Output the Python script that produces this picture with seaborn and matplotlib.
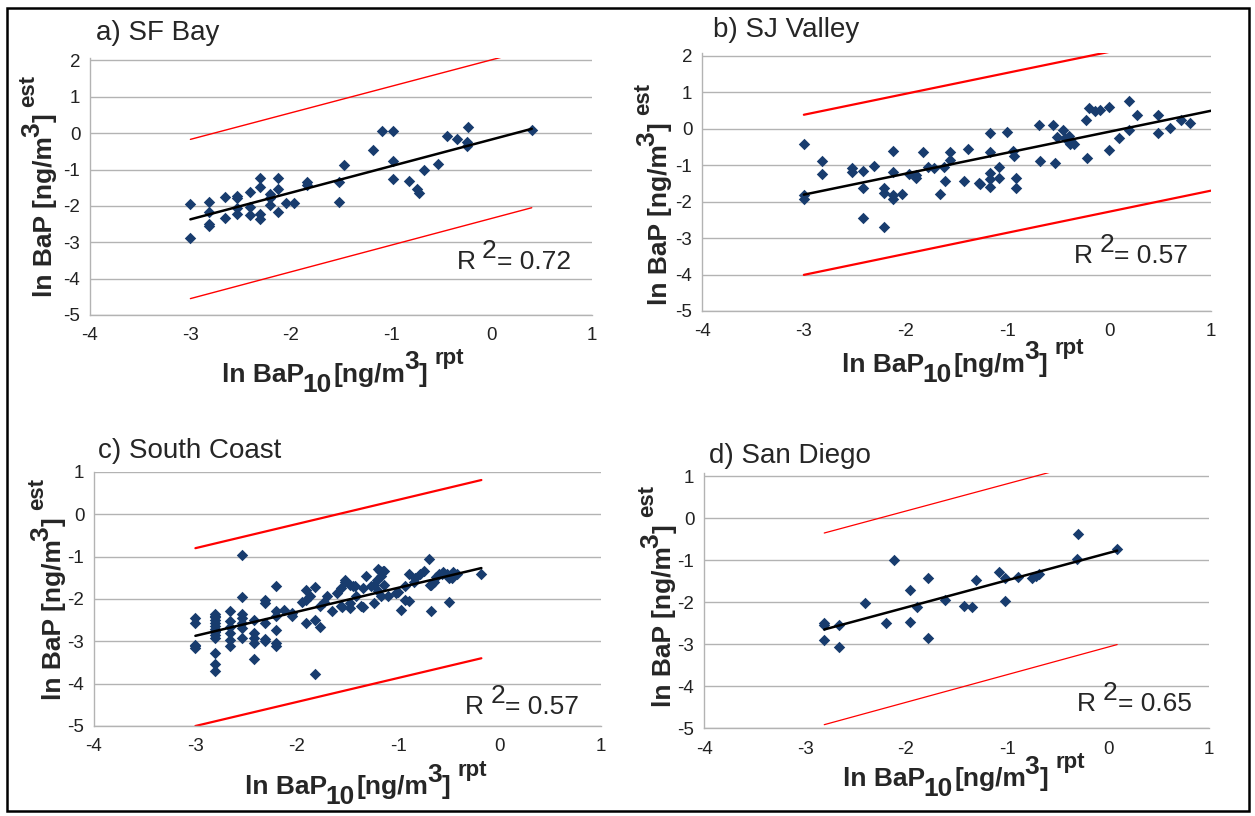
# scatter of estimated vs reported ln BaP, four air basins
import pandas as pd
import matplotlib
matplotlib.use("Agg")
import matplotlib.pyplot as plt
import seaborn as sns
from matplotlib.patches import Rectangle

# ---- data ----
# a) SF Bay
sf_x = [-3.0, -3.0, -2.81, -2.81, -2.81, -2.81, -2.66, -2.66, -2.54, -2.54, -2.54, -2.54,
        -2.41, -2.41, -2.41, -2.31, -2.31, -2.31, -2.31, -2.21, -2.21, -2.21, -2.13, -2.13,
        -2.13, -2.05, -1.97, -1.84, -1.84, -1.52, -1.52, -1.47, -1.18, -1.09, -0.98, -0.98,
        -0.98, -0.82, -0.74, -0.72, -0.67, -0.53, -0.44, -0.34, -0.23, -0.24, -0.24, 0.40]
sf_y = [-1.95, -2.88, -1.90, -2.17, -2.50, -2.56, -1.75, -2.33, -1.73, -1.79, -2.07, -2.21,
        -1.61, -2.02, -2.26, -1.24, -1.49, -2.23, -2.37, -1.67, -1.77, -1.98, -1.24, -1.53,
        -2.17, -1.92, -1.92, -1.34, -1.42, -1.34, -1.90, -0.87, -0.46, 0.05, 0.05, -0.76,
        -1.25, -1.32, -1.54, -1.64, -1.00, -0.85, -0.07, -0.17, 0.17, -0.23, -0.35, 0.08]
sf_fit_x = [-3.0, 0.4]
sf_fit_y = [-2.37, 0.12]
sf_upper = [-0.17, 2.31]
sf_lower = [-4.55, -2.05]

# b) SJ Valley
sj_x = [-3.0, -3.0, -3.0, -2.82, -2.82, -2.53, -2.53, -2.42, -2.42, -2.42, -2.31, -2.21,
        -2.21, -2.21, -2.12, -2.12, -2.12, -2.12, -2.04, -1.97, -1.90, -1.90, -1.83, -1.78,
        -1.72, -1.66, -1.62, -1.61, -1.56, -1.56, -1.43, -1.39, -1.28, -1.27, -1.17, -1.17,
        -1.17, -1.17, -1.17, -1.08, -1.08, -1.00, -0.95, -0.94, -0.92, -0.92, -0.69, -0.68,
        -0.55, -0.53, -0.51, -0.45, -0.43, -0.40, -0.39, -0.39, -0.35, -0.23, -0.22, -0.20,
        -0.14, -0.09, 0.00, 0.00, 0.10, 0.19, 0.19, 0.27, 0.48, 0.48, 0.60, 0.70, 0.79]
sj_y = [-0.42, -1.81, -1.94, -0.89, -1.24, -1.07, -1.18, -1.17, -1.62, -2.45, -1.03, -1.64,
        -1.76, -2.71, -0.61, -1.20, -1.81, -1.94, -1.79, -1.24, -1.26, -1.35, -0.63, -1.05,
        -1.08, -1.78, -1.06, -1.43, -0.63, -0.87, -1.43, -0.56, -1.48, -1.51, -0.13, -0.63,
        -1.21, -1.39, -1.60, -1.06, -1.36, -0.09, -0.61, -0.75, -1.36, -1.62, 0.09, -0.89,
        0.09, -0.93, -0.23, -0.05, -0.25, -0.19, -0.34, -0.41, -0.41, 0.25, -0.80, 0.57,
        0.49, 0.52, 0.60, -0.58, -0.27, 0.76, -0.03, 0.38, 0.38, -0.13, 0.03, 0.25, 0.15]
sj_fit_x = [-3.0, 1.0]
sj_fit_y = [-1.81, 0.49]
sj_upper = [0.38, 2.68]
sj_lower = [-4.01, -1.70]

# c) South Coast
sc_x = [-3.0, -3.0, -3.0, -3.0, -3.0,
        -2.81, -2.81, -2.81, -2.81, -2.81, -2.81, -2.81, -2.81, -2.81, -2.81, -2.81, -2.81,
        -2.81, -2.81,
        -2.66, -2.66, -2.66, -2.66, -2.66, -2.66,
        -2.54, -2.54, -2.54, -2.54, -2.54, -2.54, -2.54,
        -2.42, -2.42, -2.42, -2.42, -2.42,
        -2.31, -2.31, -2.31, -2.31, -2.31,
        -2.21, -2.21, -2.21, -2.21, -2.21, -2.21,
        -2.13, -2.05, -2.05, -1.95, -1.91, -1.91, -1.91, -1.87, -1.82, -1.82, -1.82,
        -1.77, -1.77, -1.73, -1.70, -1.65, -1.60, -1.56, -1.56, -1.55, -1.52, -1.52,
        -1.48, -1.48, -1.48, -1.45, -1.43, -1.42, -1.37, -1.35, -1.35, -1.32, -1.27,
        -1.24, -1.24, -1.21, -1.20, -1.20, -1.18, -1.17, -1.17, -1.15, -1.14, -1.14,
        -1.10, -1.02, -1.00, -0.97, -0.93, -0.93, -0.89, -0.89, -0.84, -0.83, -0.79,
        -0.75, -0.70, -0.69, -0.68, -0.68, -0.65, -0.63, -0.60, -0.57, -0.56, -0.52,
        -0.50, -0.50, -0.47, -0.46, -0.42, -0.18]
sc_y = [-2.45, -2.57, -3.08, -3.12, -3.16,
        -2.35, -2.40, -2.43, -2.50, -2.57, -2.63, -2.70, -2.75, -2.78, -2.85, -2.92, -3.28,
        -3.53, -3.69,
        -2.29, -2.51, -2.65, -2.81, -2.96, -3.11,
        -0.96, -1.96, -2.35, -2.45, -2.57, -2.69, -2.92,
        -2.49, -2.81, -2.92, -3.04, -3.42,
        -2.02, -2.09, -2.57, -2.95, -3.00,
        -1.70, -2.29, -2.41, -2.73, -3.03, -3.10,
        -2.27, -2.33, -2.41, -2.08, -1.78, -2.02, -2.57, -1.94, -1.72, -2.49, -3.78,
        -2.17, -2.65, -2.06, -1.94, -2.29, -1.86, -1.74, -2.17, -2.19, -1.54, -1.59,
        -1.66, -2.09, -2.21, -1.70, -1.70, -1.94, -2.17, -1.74, -2.19, -1.45, -1.70,
        -2.09, -1.66, -1.55, -1.30, -1.82, -1.35, -1.46, -1.94, -1.35, -1.33, -1.66,
        -1.94, -1.86, -1.83, -2.27, -1.70, -2.02, -1.42, -2.04, -1.59, -1.50, -1.42,
        -1.34, -1.05, -1.67, -1.66, -2.29, -1.60, -1.48, -1.42, -1.40, -1.36, -1.42,
        -1.50, -2.06, -1.51, -1.36, -1.42, -1.42]
sc_fit_x = [-3.0, -0.18]
sc_fit_y = [-2.87, -1.27]
sc_upper = [-0.80, 0.81]
sc_lower = [-5.00, -3.40]

# d) San Diego
sd_x = [-2.81, -2.81, -2.81, -2.66, -2.66, -2.41, -2.20, -2.12, -1.96, -1.96, -1.89,
        -1.78, -1.78, -1.61, -1.43, -1.35, -1.31, -1.08, -1.02, -1.02, -0.89, -0.75,
        -0.71, -0.68, -0.31, -0.30, 0.09]
sd_y = [-2.50, -2.55, -2.90, -2.54, -3.07, -2.01, -2.49, -1.00, -1.72, -2.48, -2.11,
        -1.42, -2.85, -1.95, -2.10, -2.12, -1.48, -1.27, -1.43, -1.98, -1.39, -1.42,
        -1.38, -1.33, -0.97, -0.38, -0.72]
sd_fit_x = [-2.81, 0.09]
sd_fit_y = [-2.65, -0.77]
sd_upper = [-0.35, 1.53]
sd_lower = [-4.92, -3.01]

titles = ["a) SF Bay", "b) SJ Valley", "c) South Coast", "d) San Diego"]
r2_values = ["0.72", "0.57", "0.57", "0.65"]

# label pieces: (text, size, rise in pt, gap before in pt)
xlabel_parts = [("ln BaP", 19, 0, 0), ("10", 19, -7, -1), ("[ng/m", 19, 0, 1),
                ("3", 19, 9, -1), ("]", 19, 0, 0), ("rpt", 16, 13, 5)]
ylabel_parts = [("ln BaP [ng/m", 19, 0, 0), ("3", 19, 9, -1), ("]", 19, 0, 0),
                ("est", 16, 13, 5)]

# ---- style ----
sns.set_style("white")
plt.rcParams["font.family"] = ["Liberation Sans", "DejaVu Sans"]
plt.rcParams["axes.unicode_minus"] = False

navy = "#183c6e"
grey = "#b3b3b3"

fig = plt.figure(figsize=(12.55, 8.16), dpi=100)
renderer = fig.canvas.get_renderer()


def rich_label(ax, parts, anchor, rotation=0):
    # lay text pieces one after the other along the baseline, with raised/lowered bits
    offset = 0.0
    for text, size, rise, gap in parts:
        offset += gap
        t = ax.annotate(text, xy=anchor, xycoords="axes fraction", xytext=(0, 0),
                        textcoords="offset points", fontsize=size, fontweight="bold",
                        ha="left", va="baseline", annotation_clip=False)
        width = t.get_window_extent(renderer).width * 72 / fig.dpi
        if rotation:
            t.set_rotation(rotation)
            t.set_rotation_mode("anchor")
            t.xyann = (-rise, offset)
        else:
            t.xyann = (offset, rise)
        offset += width


panels = [
    dict(rect=[0.0717, 0.6140, 0.400, 0.3150], ylim=(-5, 2.07), x=sf_x, y=sf_y,
         fx=sf_fit_x, fy=sf_fit_y, up=sf_upper, lo=sf_lower, red_lw=1.0,
         title_pos=(0.012, 1.098), r2_pos=(0.731, 0.205),
         xlab_pos=(0.263, -0.260), ylab_pos=(-0.076, 0.071)),
    dict(rect=[0.5594, 0.6189, 0.4056, 0.3160], ylim=(-5, 2.07), x=sj_x, y=sj_y,
         fx=sj_fit_x, fy=sj_fit_y, up=sj_upper, lo=sj_lower, red_lw=1.6,
         title_pos=(0.022, 1.09), r2_pos=(0.731, 0.212),
         xlab_pos=(0.275, -0.236), ylab_pos=(-0.069, 0.023)),
    dict(rect=[0.0749, 0.1103, 0.404, 0.3113], ylim=(-5, 1), x=sc_x, y=sc_y,
         fx=sc_fit_x, fy=sc_fit_y, up=sc_upper, lo=sc_lower, red_lw=1.6,
         title_pos=(0.008, 1.083), r2_pos=(0.732, 0.075),
         xlab_pos=(0.298, -0.268), ylab_pos=(-0.065, 0.102)),
    dict(rect=[0.5610, 0.1078, 0.4024, 0.3130], ylim=(-5, 1.09), x=sd_x, y=sd_y,
         fx=sd_fit_x, fy=sd_fit_y, up=sd_upper, lo=sd_lower, red_lw=0.9,
         title_pos=(0.01, 1.067), r2_pos=(0.739, 0.095),
         xlab_pos=(0.275, -0.227), ylab_pos=(-0.065, 0.082)),
]

for p, title, r2 in zip(panels, titles, r2_values):
    ax = fig.add_axes(p["rect"])
    df = pd.DataFrame({"rpt": p["x"], "est": p["y"]})

    # prediction band and fitted line
    sns.lineplot(x=p["fx"], y=p["up"], color="red", lw=p["red_lw"], ax=ax, estimator=None)
    sns.lineplot(x=p["fx"], y=p["lo"], color="red", lw=p["red_lw"], ax=ax, estimator=None)
    sns.scatterplot(data=df, x="rpt", y="est", marker="D", color=navy, s=34,
                    linewidth=0, ax=ax, zorder=3)
    sns.lineplot(x=p["fx"], y=p["fy"], color="black", lw=1.8, ax=ax, estimator=None,
                 zorder=4)

    ax.set_xlim(-4, 1)
    ax.set_ylim(*p["ylim"])
    ax.set_xticks(range(-4, 2))
    ax.set_yticks(range(-5, int(p["ylim"][1]) + 1))

    ax.grid(axis="y", color=grey, lw=1)
    ax.grid(axis="x", visible=False)
    for side in ["top", "right"]:
        ax.spines[side].set_visible(False)
    for side in ["left", "bottom"]:
        ax.spines[side].set_color(grey)
        ax.spines[side].set_linewidth(1)
    ax.tick_params(axis="both", direction="out", length=5, width=1, color=grey,
                   labelsize=13.5, pad=2, labelcolor="#222222")
    ax.tick_params(axis="x", pad=4)
    ax.set_xlabel("")
    ax.set_ylabel("")

    rich_label(ax, xlabel_parts, p["xlab_pos"])
    rich_label(ax, ylabel_parts, p["ylab_pos"], rotation=90)

    ax.text(p["title_pos"][0], p["title_pos"][1], title, transform=ax.transAxes,
            fontsize=20, ha="left", va="center")

    rx, ry = p["r2_pos"]
    ax.text(rx, ry, "R", transform=ax.transAxes, fontsize=19, ha="left", va="center")
    ax.annotate("2", xy=(rx, ry), xycoords="axes fraction", xytext=(18, 8),
                textcoords="offset points", fontsize=19, ha="left", va="center")
    ax.annotate("= " + r2, xy=(rx, ry), xycoords="axes fraction", xytext=(29, 0),
                textcoords="offset points", fontsize=19, ha="left", va="center")

# outer frame
fig.add_artist(Rectangle((7 / 1255, 1 - 811 / 816), 1242 / 1255, 803 / 816,
                         transform=fig.transFigure, fill=False, lw=1.8, ec="black"))

fig.savefig("out.png", dpi=100)
